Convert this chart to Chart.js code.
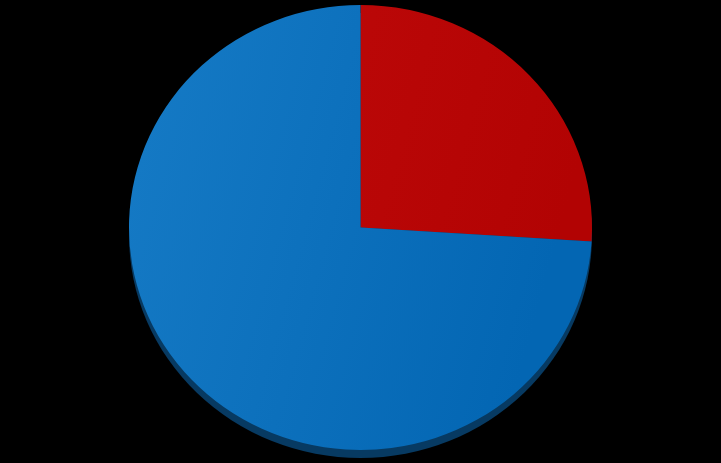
<!DOCTYPE html>
<html><head><meta charset="utf-8">
<script src="https://cdn.jsdelivr.net/npm/chart.js@4/dist/chart.umd.min.js"></script>
<style>html,body{margin:0;padding:0;background:#000;}#wrap{width:721px;height:463px;}</style>
</head><body><div id="wrap"><canvas id="c"></canvas></div>
<script>
const categories = ['A', 'B'];
const values = [26, 74];
const colorsLight = ['#c20b0b', '#167bc6'];
const colorsDark = ['#b20303', '#0366b3'];
const SY = 0.961, CY = 227.5;

const squash = {
  id: 'squash',
  beforeDatasetsDraw(chart) {
    const ctx = chart.ctx;
    const arc = chart.getDatasetMeta(0).data[0];
    ctx.save();
    ctx.translate(0, CY);
    ctx.scale(1, SY);
    ctx.translate(0, -arc.y);
    ctx.beginPath();
    ctx.arc(arc.x, arc.y + 8 / SY, arc.outerRadius, 0, Math.PI * 2);
    ctx.fillStyle = '#073a62';
    ctx.fill();
  },
  afterDatasetsDraw(chart) { chart.ctx.restore(); }
};

new Chart(document.getElementById('c'), {
  type: 'pie',
  data: {
    labels: categories,
    datasets: [{
      data: values,
      borderWidth: 0,
      backgroundColor(ctx) {
        const ca = ctx.chart.chartArea;
        if (!ca) return colorsDark[ctx.dataIndex];
        const g = ctx.chart.ctx.createLinearGradient(130, 0, 590, 120);
        g.addColorStop(0, colorsLight[ctx.dataIndex]);
        g.addColorStop(1, colorsDark[ctx.dataIndex]);
        return g;
      }
    }]
  },
  options: {
    responsive: true,
    maintainAspectRatio: false,
    animation: false,
    layout: { padding: 0 },
    plugins: { legend: { display: false }, tooltip: { enabled: false } }
  },
  plugins: [squash]
});
</script></body></html>
